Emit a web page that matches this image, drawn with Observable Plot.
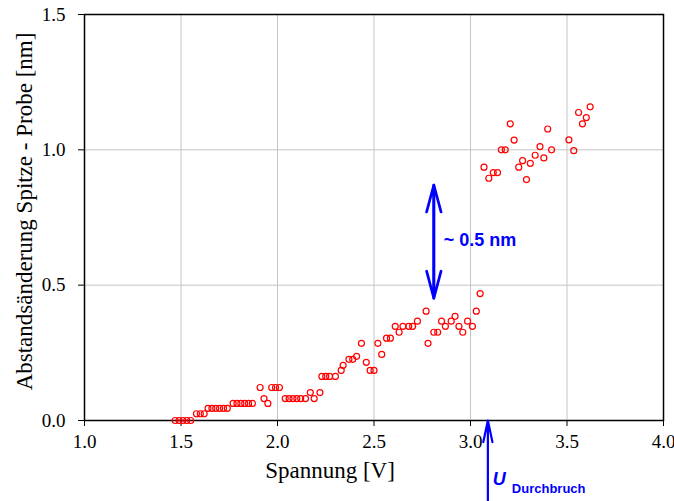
<!DOCTYPE html>
<html>
<head>
<meta charset="utf-8">
<script src="https://cdn.jsdelivr.net/npm/d3@7"></script>
<script src="https://cdn.jsdelivr.net/npm/@observablehq/plot@0.6"></script>
<style>
  html, body { margin: 0; padding: 0; background: #fff; }
</style>
</head>
<body>
<div id="chart"></div>
<script>
// Measured points: voltage [V] and tip–sample distance change [nm]
const spannung = [
  1.47, 1.49, 1.51, 1.53, 1.55,
  1.58, 1.60, 1.62,
  1.64, 1.66, 1.68, 1.70, 1.72, 1.74,
  1.77, 1.79, 1.81, 1.83, 1.85, 1.87,
  1.91, 1.93, 1.95, 1.97, 1.99, 2.01,
  2.04, 2.06, 2.08, 2.10, 2.12, 2.145,
  2.17, 2.19, 2.22,
  2.23, 2.25, 2.27, 2.30,
  2.33, 2.34, 2.37, 2.39, 2.41, 2.435, 2.46, 2.48, 2.50,
  2.52, 2.54, 2.565, 2.585, 2.61, 2.63, 2.65, 2.68, 2.70, 2.725,
  2.77, 2.78, 2.81, 2.83, 2.85, 2.87, 2.90, 2.92, 2.94, 2.96, 2.985,
  3.01, 3.03, 3.05,
  3.07, 3.095, 3.118, 3.14, 3.16, 3.18, 3.206, 3.226, 3.25, 3.27,
  3.29, 3.31, 3.335, 3.36, 3.38, 3.40, 3.42,
  3.51, 3.535, 3.56, 3.58, 3.60, 3.62
];
const abstand = [
  0, 0, 0, 0, 0,
  0.025, 0.025, 0.025,
  0.045, 0.045, 0.045, 0.045, 0.045, 0.045,
  0.063, 0.063, 0.063, 0.063, 0.063, 0.063,
  0.122, 0.081, 0.063, 0.122, 0.122, 0.122,
  0.081, 0.081, 0.081, 0.081, 0.081, 0.081,
  0.103, 0.081, 0.103,
  0.163, 0.163, 0.163, 0.163,
  0.185, 0.204, 0.226, 0.226, 0.237, 0.285, 0.215, 0.185, 0.185,
  0.285, 0.244, 0.304, 0.304, 0.348, 0.326, 0.348, 0.348, 0.348, 0.367,
  0.404, 0.285, 0.326, 0.326, 0.367, 0.348, 0.367, 0.385, 0.348, 0.326, 0.367,
  0.348, 0.404, 0.469,
  0.936, 0.895, 0.916, 0.916, 1.0, 1.0, 1.096, 1.036, 0.936, 0.96,
  0.89, 0.95, 0.98, 1.012, 0.97, 1.077, 1.0,
  1.037, 0.997, 1.138, 1.096, 1.119, 1.159
];

// Axis ticks
const xTicks = [1.0, 1.5, 2.0, 2.5, 3.0, 3.5, 4.0];
const yTicks = [0.0, 0.5, 1.0, 1.5];
const xGrid = [1.5, 2.0, 2.5, 3.0, 3.5];
const yGrid = [0.5, 1.0];

// Annotations
const gapX = 2.81;          // double arrow position [V]
const gapFrom = 0.452;      // lower end [nm]
const gapTo = 0.87;         // upper end [nm]
const gapLabel = "~ 0.5 nm";
const uBreak = 3.09;        // breakdown voltage [V]
const uBreakLow = -0.3;     // arrow start below the axis
const uLabel = "U";
const uSub = "Durchbruch";
const xTitle = "Spannung [V]";
const yTitle = "Abstandsänderung Spitze - Probe [nm]";

const data = spannung.map((v, i) => ({x: v, y: abstand[i]}));
const blue = "#0000ff";
const sans = "'Liberation Sans', Arial, sans-serif";

const chart = Plot.plot({
  width: 674,
  height: 501,
  marginLeft: 84,
  marginRight: 11,
  marginTop: 14,
  marginBottom: 81,
  style: {fontFamily: "'Liberation Serif', 'Times New Roman', serif", fontSize: "19px", background: "#fff", color: "#000"},
  x: {domain: [1, 4]},
  y: {domain: [0, 1.5]},
  marks: [
    Plot.gridX(xGrid, {stroke: "#c4c4c4", strokeOpacity: 1}),
    Plot.gridY(yGrid, {stroke: "#c4c4c4", strokeOpacity: 1}),
    Plot.axisX(xTicks, {tickFormat: d3.format(".1f"), tickSize: 6, tickPadding: 8, label: null, fontSize: 19}),
    Plot.axisY(yTicks, {tickFormat: d3.format(".1f"), tickSize: 6, tickPadding: 13, label: null, fontSize: 19}),
    Plot.frame({stroke: "#000", strokeWidth: 1.5}),
    Plot.dot(data, {x: "x", y: "y", r: 3, stroke: "#ff0000", fill: "none", strokeWidth: 1.2}),
    // double arrow "~0.5 nm"
    Plot.arrow([{x: gapX, a: gapFrom, b: gapTo}], {x: "x", y1: "a", y2: "b", stroke: blue, strokeWidth: 2.7, headAngle: 30, headLength: 15.5}),
    Plot.arrow([{x: gapX, a: gapTo, b: gapFrom}], {x: "x", y1: "a", y2: "b", stroke: blue, strokeWidth: 2.7, headAngle: 30, headLength: 15.5}),
    Plot.text([gapLabel], {x: gapX, y: (gapFrom + gapTo) / 2, dx: 10, dy: -1, text: d => d, textAnchor: "start", fill: blue, fontWeight: "bold", fontFamily: sans, fontSize: 18}),
    // U Durchbruch arrow
    Plot.arrow([{x: uBreak, a: uBreakLow, b: 0}], {x: "x", y1: "a", y2: "b", stroke: blue, strokeWidth: 2.2, headAngle: 24, headLength: 15}),
    Plot.text([uLabel], {x: uBreak, y: 0, dx: 5, dy: 59, text: d => d, textAnchor: "start", fill: blue, fontWeight: "bold", fontStyle: "italic", fontFamily: sans, fontSize: 18}),
    Plot.text([uSub], {x: uBreak, y: 0, dx: 24, dy: 68, text: d => d, textAnchor: "start", fill: blue, fontWeight: "bold", fontFamily: sans, fontSize: 13}),
    // axis titles
    Plot.text([xTitle], {frameAnchor: "bottom", dx: -44, dy: 50, lineAnchor: "middle", textAnchor: "middle", text: d => d, fontSize: 23, fill: "#000"}),
    Plot.text([yTitle], {frameAnchor: "left", dx: -60, dy: -6, rotate: -90, lineAnchor: "middle", textAnchor: "middle", text: d => d, fontSize: 23, fill: "#000"})
  ]
});
document.getElementById("chart").appendChild(chart);
</script>
</body>
</html>
